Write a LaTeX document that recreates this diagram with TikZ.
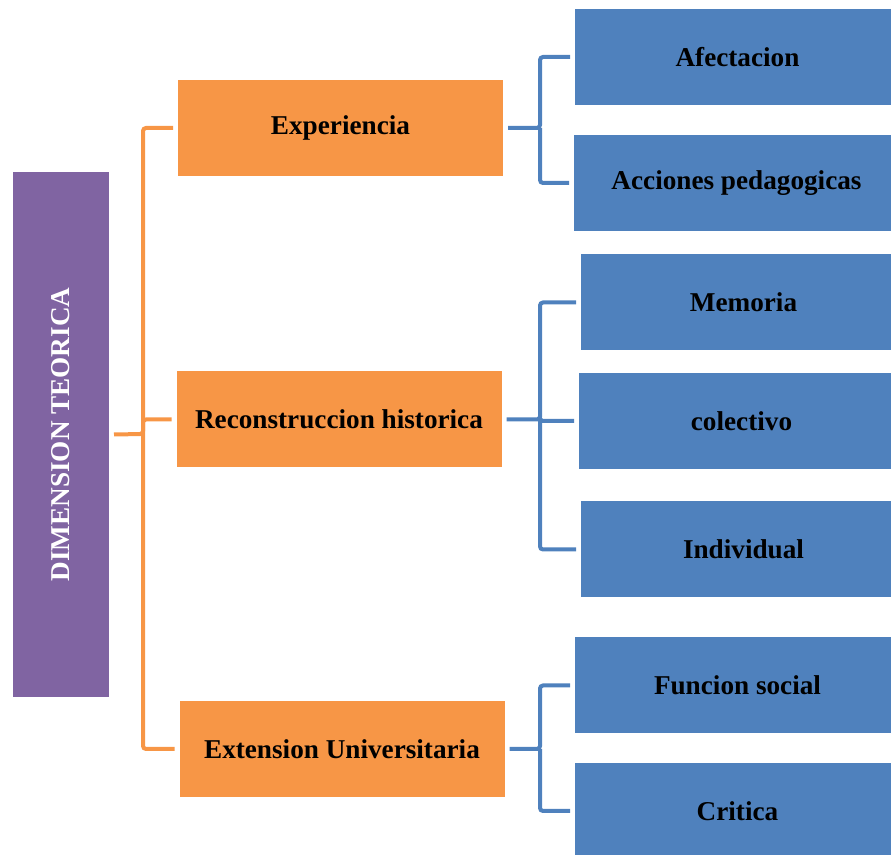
\documentclass[tikz,border=0pt]{standalone}
\usepackage{fontspec}
\setmainfont{Liberation Serif}
\usepackage{tikz}

\definecolor{rootpurple}{HTML}{8064A2}
\definecolor{midorange}{HTML}{F79646}
\definecolor{leafblue}{HTML}{4F81BD}

\begin{document}
\begin{tikzpicture}[x=0.5pt,y=-0.5pt,
	box/.style={inner sep=0pt, outer sep=2.5pt, font=\fontsize{13.6}{16}\selectfont\bfseries},
	root/.style={box, fill=rootpurple, text=white, minimum width=262.5pt, minimum height=48pt, rotate=90},
	mid/.style={box, fill=midorange, minimum width=162.5pt, minimum height=48pt},
	leaf/.style={box, fill=leafblue, minimum width=162.5pt, minimum height=48pt},
	oline/.style={draw=midorange, line width=2pt, rounded corners=1.5pt},
	bline/.style={draw=leafblue, line width=2pt, rounded corners=1.5pt}]
	\useasboundingbox (0,0) rectangle (891,855);
	\node[root] (dim) at (61,434.5) {DIMENSION TEORICA};
	\node[mid] (exp) at (340.5,128) {Experiencia};
	\node[mid] (rec) at (339,419.5) {Reconstruccion historica};
	\node[mid] (ext) at (342,749) {Extension Universitaria};
	\node[leaf] (afe) at (737.5,57) {Afectacion};
	\node[leaf] (acc) at (736.5,183) {Acciones pedagogicas};
	\node[leaf] (mem) at (743.5,302.5) {Memoria};
	\node[leaf] (col) at (741.5,421) {colectivo};
	\node[leaf] (ind) at (743.5,549.5) {Individual};
	\node[leaf] (fun) at (737.5,685.5) {Funcion social};
	\node[leaf] (cri) at (737.5,811) {Critica};
	\coordinate (s0) at (143,434);
	\coordinate (s1) at (540,128);
	\coordinate (s2) at (540,419.5);
	\coordinate (s3) at (540,749);
	\draw[oline] (dim.south) -- (s0) |- (exp.west);
	\draw[oline] (s0) |- (rec.west);
	\draw[oline] (s0) |- (ext.west);
	\draw[bline] (exp.east) -- (s1) |- (afe.west);
	\draw[bline] (s1) |- (acc.west);
	\draw[bline] (rec.east) -- (s2) |- (mem.west);
	\draw[bline] (s2) |- (col.west);
	\draw[bline] (s2) |- (ind.west);
	\draw[bline] (ext.east) -- (s3) |- (fun.west);
	\draw[bline] (s3) |- (cri.west);
\end{tikzpicture}
\end{document}
